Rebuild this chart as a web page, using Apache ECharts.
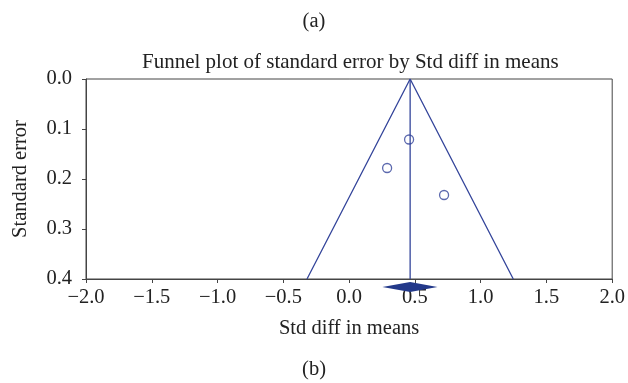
<!DOCTYPE html>
<html>
<head>
<meta charset="utf-8">
<script src="https://cdn.jsdelivr.net/npm/echarts@6/dist/echarts.min.js"></script>
<style>
  html, body { margin: 0; padding: 0; background: #fff; }
  #main { width: 628px; height: 383px; }
</style>
</head>
<body>
<div id="main"></div>
<script>
// study effects (Std diff in means) and their standard errors
const studyEffects = [0.456, 0.289, 0.722]
const studyErrors = [0.121, 0.178, 0.232]
// pooled estimate and its confidence limits
const pooledMean = 0.464
const pooledCI = [0.253, 0.672]
const maxError = 0.4
const xTicks = [-2.0, -1.5, -1.0, -0.5, 0.0, 0.5, 1.0, 1.5, 2.0]
const yTicks = [0.0, 0.1, 0.2, 0.3, 0.4]

const lineColor = '#33449a'
const font = 'Liberation Serif'
const fs = 20.5

const myChart = echarts.init(document.getElementById('main'))

const funnel = [
  [pooledMean - 1.96 * maxError, maxError],
  [pooledMean, 0],
  [pooledMean + 1.96 * maxError, maxError]
]
const midLine = [[pooledMean, 0], [pooledMean, maxError]]
const points = studyEffects.map((v, i) => [v, studyErrors[i]])

const fmt = v => {
  const s = Math.abs(v).toFixed(1)
  return v < 0 ? '\u2212' + s : s
}

const option = {
  animation: false,
  textStyle: { fontFamily: font },
  title: [
    { text: '(a)', left: 'center', top: 6, textStyle: { fontFamily: font, fontSize: fs, fontWeight: 'normal', color: '#222' } },
    // centred over the plot area, not the page
    { text: 'Funnel plot of standard error by Std diff in means', left: 137, top: 47, textStyle: { fontFamily: font, fontSize: 21, fontWeight: 'normal', color: '#222' } },
    { text: '(b)', left: 'center', top: 354, textStyle: { fontFamily: font, fontSize: fs, fontWeight: 'normal', color: '#222' } }
  ],
  grid: {
    left: 86, right: 15, top: 79, bottom: 104,
    show: true, borderColor: '#444', borderWidth: 1
  },
  xAxis: {
    type: 'value',
    min: xTicks[0],
    max: xTicks[xTicks.length - 1],
    interval: 0.5,
    name: 'Std diff in means',
    nameLocation: 'middle',
    nameGap: 39,
    nameTextStyle: { fontFamily: font, fontSize: fs, color: '#222' },
    axisLine: { onZero: false, lineStyle: { color: '#444' } },
    axisTick: { length: 4, lineStyle: { color: '#444' } },
    axisLabel: { fontFamily: font, fontSize: fs, color: '#222', margin: 8, formatter: fmt },
    splitLine: { show: false }
  },
  yAxis: {
    type: 'value',
    inverse: true,
    min: yTicks[0],
    max: yTicks[yTicks.length - 1],
    interval: 0.1,
    name: 'Standard error',
    nameLocation: 'middle',
    nameGap: 55,
    nameTextStyle: { fontFamily: font, fontSize: fs, color: '#222' },
    axisLine: { show: true, onZero: false, lineStyle: { color: '#444' } },
    axisTick: { show: true, length: 4, lineStyle: { color: '#444' } },
    axisLabel: { fontFamily: font, fontSize: fs, color: '#222', margin: 14, formatter: v => v.toFixed(1) },
    splitLine: { show: false }
  },
  series: [
    {
      type: 'line',
      data: funnel,
      symbol: 'none',
      lineStyle: { color: lineColor, width: 1.3 },
      silent: true
    },
    {
      type: 'line',
      data: midLine,
      symbol: 'none',
      lineStyle: { color: lineColor, width: 1.3 },
      silent: true
    },
    {
      type: 'scatter',
      data: points,
      symbol: 'circle',
      symbolSize: 9,
      itemStyle: { color: 'transparent', borderColor: lineColor, borderWidth: 1.3 }
    },
    {
      type: 'custom',
      clip: false,
      z: 10,
      data: [[pooledCI[0], pooledMean, pooledCI[1]]],
      renderItem: (params, api) => {
        const lo = api.coord([api.value(0), maxError])
        const mid = api.coord([api.value(1), maxError])
        const hi = api.coord([api.value(2), maxError])
        const cy = lo[1] + 8
        return {
          type: 'polygon',
          shape: { points: [[lo[0], cy], [mid[0], cy - 5], [hi[0], cy], [mid[0], cy + 5]] },
          style: { fill: '#23398a' }
        }
      }
    }
  ]
}

myChart.setOption(option)
</script>
</body>
</html>
